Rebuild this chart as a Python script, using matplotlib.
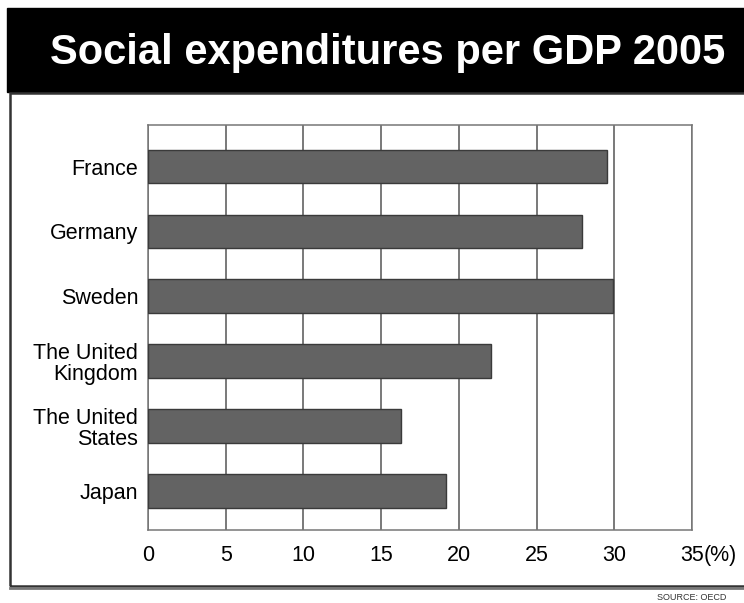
import numpy as np
import matplotlib.pyplot as plt
from matplotlib.patches import Rectangle

countries = ["France", "Germany", "Sweden", "The United\nKingdom",
             "The United\nStates", "Japan"]
values = [29.5, 27.9, 29.9, 22.1, 16.3, 19.2]
xticks = [0, 5, 10, 15, 20, 25, 30, 35]
title = "Social expenditures per GDP 2005"
source = "SOURCE: OECD"

plt.rcParams['font.family'] = ['Liberation Sans', 'DejaVu Sans']

fig = plt.figure(figsize=(7.44, 6.03), dpi=100)
W, H = 744, 603

# black title band
fig.patches.append(Rectangle((7 / W, 1 - 92 / H), 1 - 7 / W, 84 / H,
                             transform=fig.transFigure, color='black'))
fig.text(388 / W, 1 - 53 / H, title, color='white', fontsize=30,
         fontweight='bold', ha='center', va='center')

# frame under the title
fig.patches.append(Rectangle((10 / W, 1 - 586 / H), 1 - 10 / W + 0.01, 493 / H,
                             transform=fig.transFigure, fill=False,
                             edgecolor='#333333', linewidth=1.8))
fig.lines.append(plt.Line2D([10 / W, 1], [1 - 588 / H, 1 - 588 / H],
                            transform=fig.transFigure, color='#777777',
                            linewidth=2))

ax = fig.add_axes([148 / W, 1 - 530 / H, (692 - 148) / W, (530 - 125) / H])
y = np.arange(len(countries))
ax.barh(y, values, height=0.52, color='#636363', edgecolor='#3a3a3a',
        linewidth=1, zorder=3)
ax.set_xlim(0, 35)
ax.set_ylim(5.6, -0.64)
ax.set_xticks(xticks)
ax.set_xticklabels([str(t) for t in xticks], fontsize=15.5)
ax.set_yticks(y)
ax.set_yticklabels(countries, fontsize=15.5, linespacing=1.0)
ax.tick_params(axis='x', length=0, pad=11)
ax.tick_params(axis='y', length=0, pad=7)
ax.grid(axis='x', color='#555555', linewidth=1.1, zorder=0)
for s in ax.spines.values():
    s.set_color('#777777')
    s.set_linewidth(1.1)
for lbl in ax.get_yticklabels():
    lbl.set_multialignment('right')

fig.text(704 / W, 1 - 555 / H, "(%)", fontsize=15.5, ha='left', va='center')
fig.text(657 / W, 1 - 597 / H, source, fontsize=6.5, ha='left', va='center',
         color='#333333')

fig.savefig("out.png", dpi=100)
